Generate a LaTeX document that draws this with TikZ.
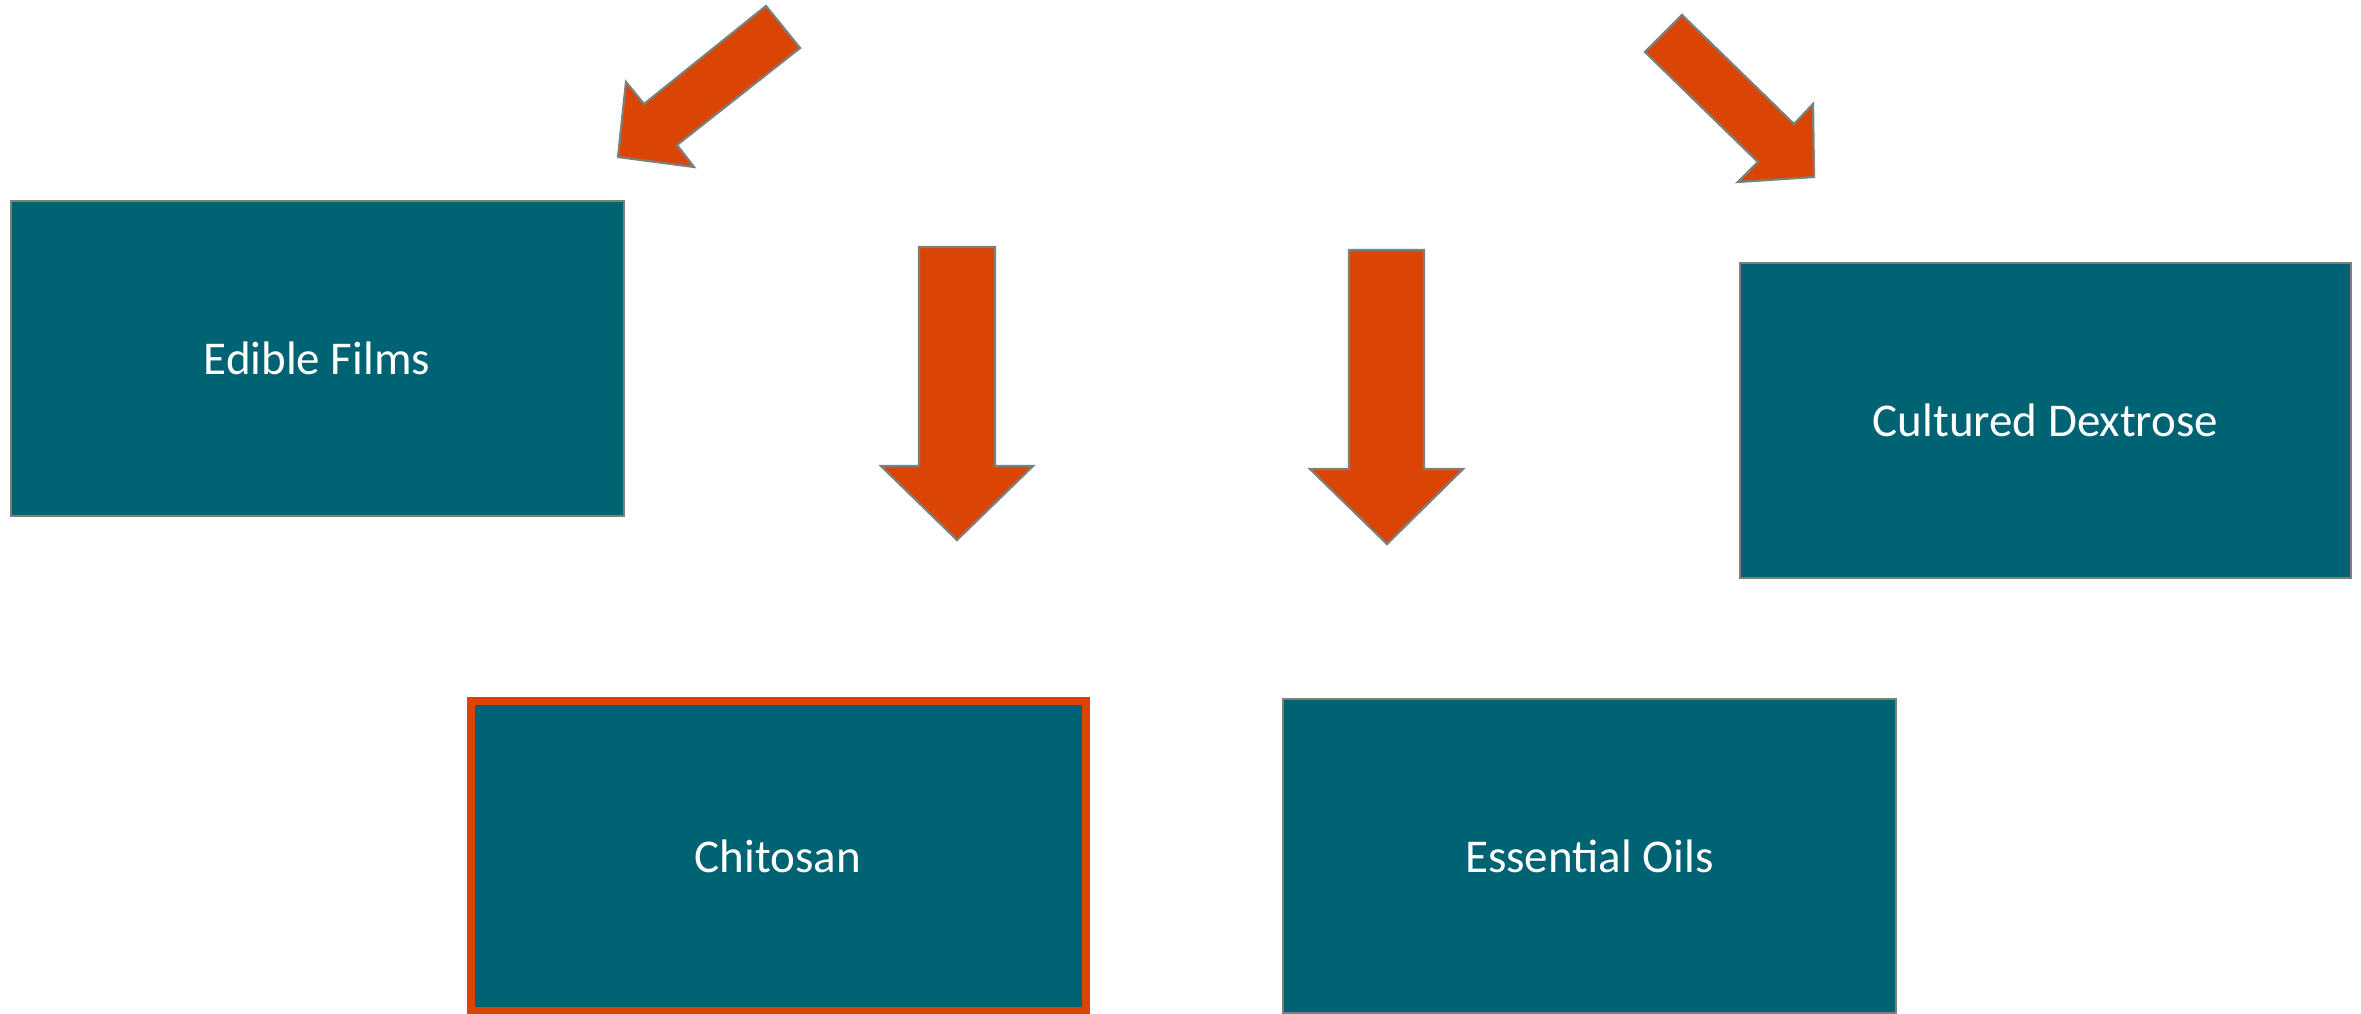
\documentclass[tikz,border=0pt]{standalone}
\usepackage{fontspec}
\setmainfont{Carlito}
\definecolor{tealbox}{RGB}{0,99,115}
\definecolor{flow}{RGB}{218,69,5}
\definecolor{rim}{RGB}{125,128,120}
\begin{document}
\begin{tikzpicture}[x=1pt,y=-1pt,
  box/.style={draw=rim,line width=2pt,fill=tealbox,text=white,inner sep=0pt,
    font=\fontsize{47}{56}\selectfont},
  hilite/.style={draw=flow,line width=8pt},
  blockarrow/.style={draw=rim,line width=2.2pt,fill=flow,line join=miter}]
\useasboundingbox (0,0) rectangle (2361,1014);
\fill[white] (0,0) rectangle (2361,1014);

% boxes
\node[box,minimum width=613pt,minimum height=315pt] (films) at (317,358) {Edible Films};
\node[box,minimum width=611pt,minimum height=315pt] (dextrose) at (2045.5,420.5) {Cultured Dextrose};
\node[box,hilite,minimum width=615pt,minimum height=310pt] (chitosan) at (778,856) {Chitosan};
\node[box,minimum width=613pt,minimum height=314pt] (oils) at (1589.5,856) {Essential Oils};

% diagonal block arrows at the top
\draw[blockarrow] (766,6) -- (800,48) -- (677,145) -- (694,167) -- (618,157)
  -- (626,82) -- (644,104) -- cycle;
\draw[blockarrow] (1682,15) -- (1794,124) -- (1813,104) -- (1814,177)
  -- (1738,182) -- (1758,162) -- (1645,52) -- cycle;

% vertical block arrows
\draw[blockarrow] (919,247) -- (995,247) -- (995,466) -- (1033,466) -- (957,540)
  -- (881,466) -- (919,466) -- cycle;
\draw[blockarrow] (1349,250) -- (1424,250) -- (1424,469) -- (1463,469) -- (1387,544)
  -- (1310,469) -- (1349,469) -- cycle;
\end{tikzpicture}
\end{document}
